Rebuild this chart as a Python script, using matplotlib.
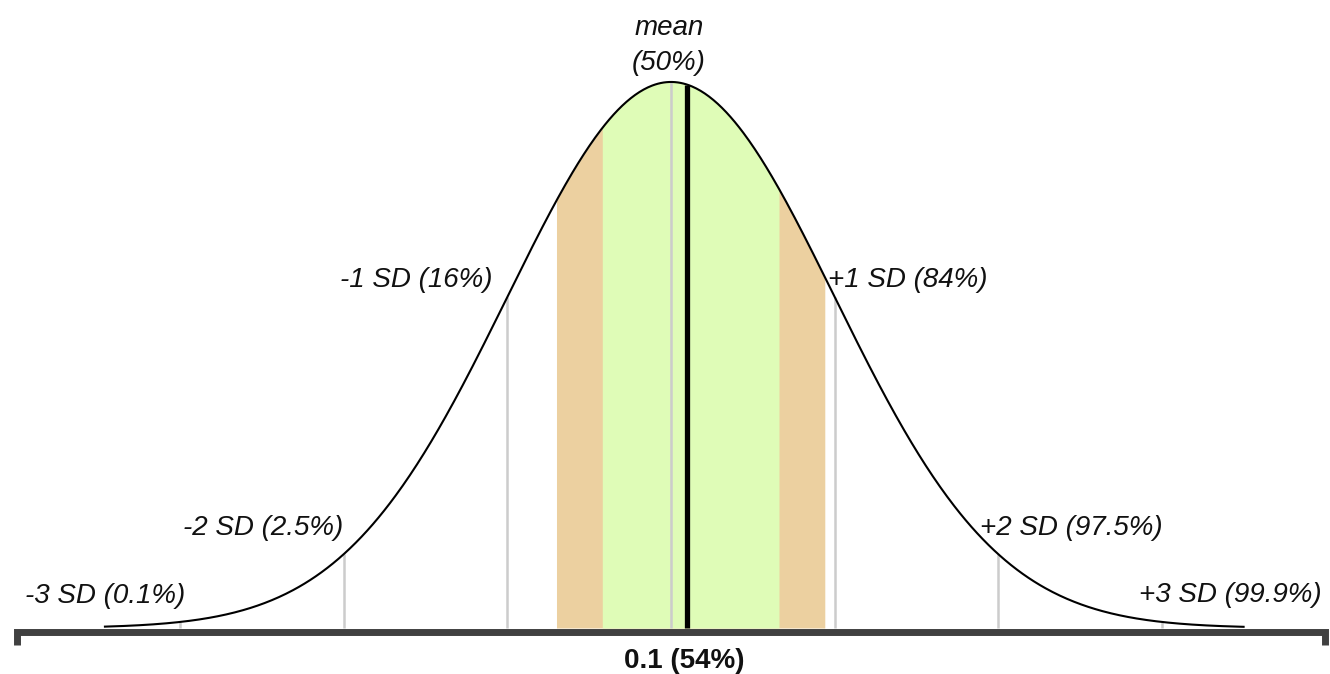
import numpy as np
import matplotlib.pyplot as plt

plt.rcParams['font.family'] = ['Liberation Sans', 'DejaVu Sans']

# chart data
sd_marks = [-3, -2, -1, 0, 1, 2, 3]
sd_labels = ['-3 SD (0.1%)', '-2 SD (2.5%)', '-1 SD (16%)', 'mean\n(50%)',
             '+1 SD (84%)', '+2 SD (97.5%)', '+3 SD (99.9%)']
score = 0.1
score_label = '0.1 (54%)'
inner_band = [-0.42, 0.66]
outer_band = [-0.70, 0.94]
curve_range = [-3.46, 3.5]
axis_range = [-4.0, 4.0]


def pdf(x):
    return np.exp(-0.5 * np.asarray(x) ** 2) / np.sqrt(2 * np.pi)


# pixel -> data helpers (image is 1330x674)
X0, XS = 671.0, 163.6
Y0, YS = 628.0, 1368.7


def px(x):
    return (x - X0) / XS


def py(y):
    return (Y0 - y) / YS


fig = plt.figure(figsize=(13.3, 6.74), dpi=100)
ax = fig.add_axes([0, 0, 1, 1])
ax.set_xlim(px(0), px(1330))
ax.set_ylim(py(674), py(0))
ax.axis('off')

xs = np.linspace(curve_range[0], curve_range[1], 800)

# shaded bands
xo = np.linspace(outer_band[0], outer_band[1], 300)
ax.fill_between(xo, 0, pdf(xo), color='#ecd0a0', lw=0, zorder=1)
xi = np.linspace(inner_band[0], inner_band[1], 300)
ax.fill_between(xi, 0, pdf(xi), color='#dffcb7', lw=0, zorder=2)

# sd gridlines
for m in sd_marks:
    ax.plot([m, m], [0, pdf(m)], color='#cccccc', lw=1.8, zorder=3,
            solid_capstyle='butt')

# score marker
ax.plot([score, score], [0, pdf(score)], color='black', lw=3.8, zorder=5,
        solid_capstyle='butt')

# curve
ax.plot(xs, pdf(xs), color='black', lw=1.5, zorder=6)

# baseline axis with end ticks
ay = py(631.5)
ty = py(645)
ax.plot([axis_range[0], axis_range[0], axis_range[1], axis_range[1]],
        [ty, ay, ay, ty], color='#404040', lw=5, zorder=7,
        solid_joinstyle='miter', solid_capstyle='butt')

# labels
fs = 20
kw = dict(fontsize=fs, style='italic', color='#111111', va='baseline')
ax.text(px(669), py(35), sd_labels[3].split('\n')[0], ha='center', **kw)
ax.text(px(669), py(70), sd_labels[3].split('\n')[1], ha='center', **kw)
ax.text(px(493), py(287), sd_labels[2], ha='right', **kw)
ax.text(px(828), py(287), sd_labels[4], ha='left', **kw)
ax.text(px(343), py(535), sd_labels[1], ha='right', **kw)
ax.text(px(980), py(535), sd_labels[5], ha='left', **kw)
ax.text(px(25), py(603), sd_labels[0], ha='left', **kw)
ax.text(px(1322), py(602), sd_labels[6], ha='right', **kw)

ax.text(px(684), py(668), score_label, ha='center', va='baseline',
        fontsize=fs, fontweight='bold', color='#111111')

fig.savefig('out.png', dpi=100)
